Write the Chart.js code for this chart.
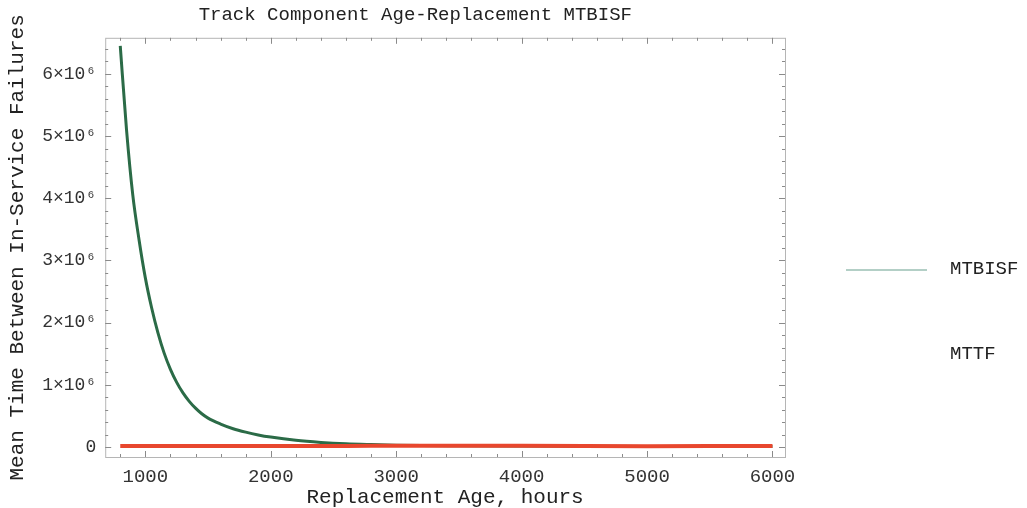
<!DOCTYPE html>
<html>
<head>
<meta charset="utf-8">
<script src="https://cdn.jsdelivr.net/npm/chart.js@4/dist/chart.umd.min.js"></script>
<style>
  html, body { margin: 0; padding: 0; background: #fff; }
  #wrap { width: 1027px; height: 508px; }
</style>
</head>
<body>
<div id="wrap"><canvas id="myChart"></canvas></div>
<script>
const ctx = document.getElementById('myChart');

// replacement age (hours) and the two curves
var ageHours = [800, 850, 900, 950, 1000, 1050, 1100, 1150, 1200, 1250, 1300, 1350, 1400, 1450, 1500,
                1600, 1700, 1800, 1900, 2000, 2200, 2400, 2600, 2800, 3000, 3500, 4000, 4500, 5000, 5500, 6000];
var mtbisf = [6450000, 5100000, 4050000, 3330000, 2720000, 2240000, 1840000, 1510000, 1250000, 1040000,
              870000, 735000, 625000, 535000, 465000, 370000, 295000, 240000, 195000, 160000, 108000,
              75000, 53000, 40000, 30000, 20000, 15000, 12000, 10000, 9000, 8000];
var mttf = [16000, 16000, 16000, 16000, 16000, 16000, 16000, 16000, 16000, 16000, 16000, 16000, 16000, 16000, 16000,
            16000, 16000, 16000, 16000, 16000, 16000, 17000, 18000, 19000, 20000, 21000, 19000, 16000, 13000, 18000, 17000];

var seriesNames = ['MTBISF', 'MTTF'];
var xTicks = [1000, 2000, 3000, 4000, 5000, 6000];
var yTicks = [0, 1000000, 2000000, 3000000, 4000000, 5000000, 6000000];

const FONT = "'Liberation Mono', 'DejaVu Sans Mono', monospace";

function pts(vals) {
    return ageHours.map(function (a, i) { return { x: a, y: vals[i] }; });
}

// frame box with small inward ticks on all four sides
const frameTicks = {
    id: 'frameTicks',
    afterDraw(chart) {
        const c = chart.ctx, a = chart.chartArea;
        const xs = chart.scales.x, ys = chart.scales.y;
        c.save();
        c.strokeStyle = '#b5b5b5';
        c.lineWidth = 1;
        c.strokeRect(a.left + 0.5, a.top + 0.5, a.right - a.left, a.bottom - a.top);
        c.strokeStyle = '#8a8a8a';
        c.beginPath();
        for (let v = 800; v <= xs.max; v += 200) {
            const px = Math.round(xs.getPixelForValue(v)) + 0.5;
            const len = v % 1000 === 0 ? 6 : 3;
            c.moveTo(px, a.bottom); c.lineTo(px, a.bottom - len);
            c.moveTo(px, a.top); c.lineTo(px, a.top + len);
        }
        for (let v = 0; v <= ys.max; v += 200000) {
            const py = Math.round(ys.getPixelForValue(v)) + 0.5;
            const len = v % 1000000 === 0 ? 6 : 3;
            c.moveTo(a.left, py); c.lineTo(a.left + len, py);
            c.moveTo(a.right, py); c.lineTo(a.right - len, py);
        }
        c.stroke();
        c.restore();
    }
};

// legend on the right: MTBISF with a pale swatch, MTTF text only
const sideLegend = {
    id: 'sideLegend',
    afterDraw(chart) {
        const c = chart.ctx;
        const swatch = ['#b3cfc6', null];
        c.save();
        c.font = '19px ' + FONT;
        c.fillStyle = '#222';
        c.textBaseline = 'middle';
        seriesNames.forEach(function (name, i) {
            const y = 269 + i * 85;
            if (swatch[i]) {
                c.strokeStyle = swatch[i];
                c.lineWidth = 2;
                c.beginPath();
                c.moveTo(846, y + 1); c.lineTo(927, y + 1);
                c.stroke();
            }
            c.fillText(name, 950, y);
        });
        c.restore();
    }
};

const chart = new Chart(ctx, {
    type: 'line',
    data: {
        datasets: [{
            label: seriesNames[0],
            data: pts(mtbisf),
            borderColor: '#2b6b47',
            borderWidth: 3,
            pointRadius: 0,
            cubicInterpolationMode: 'monotone',
            order: 1
        }, {
            label: seriesNames[1],
            data: pts(mttf),
            borderColor: '#e8472e',
            borderWidth: 4,
            pointRadius: 0,
            order: 0
        }]
    },
    options: {
        maintainAspectRatio: false,
        responsive: true,
        animation: false,
        layout: { padding: { left: 0, right: 242, top: 4, bottom: 0 } },
        plugins: {
            legend: { display: false },
            tooltip: { enabled: false },
            title: {
                display: true,
                // leading spaces nudge the centred title to the right
                text: '    Track Component Age-Replacement MTBISF',
                color: '#222',
                font: { family: FONT, size: 19, weight: 'normal' },
                padding: { top: 0, bottom: 11 }
            }
        },
        scales: {
            x: {
                type: 'linear',
                min: 680,
                max: 6100,
                grid: { display: false, drawTicks: false },
                border: { display: false },
                afterBuildTicks: function (s) { s.ticks = xTicks.map(function (v) { return { value: v }; }); },
                ticks: {
                    color: '#333',
                    padding: 10,
                    maxRotation: 0,
                    font: { family: FONT, size: 19, lineHeight: 1 },
                    callback: function (v) { return String(v); }
                },
                title: {
                    display: true,
                    text: 'Replacement Age, hours',
                    color: '#222',
                    font: { family: FONT, size: 21, lineHeight: 1 },
                    padding: { top: -9, bottom: 0 }
                }
            },
            y: {
                min: -160000,
                max: 6580000,
                grid: { display: false, drawTicks: false },
                border: { display: false },
                afterBuildTicks: function (s) { s.ticks = yTicks.map(function (v) { return { value: v }; }); },
                ticks: {
                    color: '#333',
                    padding: 9,
                    font: { family: FONT, size: 18 },
                    callback: function (v) { return v === 0 ? '0' : (v / 1000000) + '×10⁶'; }
                },
                title: {
                    display: true,
                    text: 'Mean Time Between In-Service Failures',
                    color: '#222',
                    font: { family: FONT, size: 21 },
                    padding: { top: 5, bottom: 3 }
                }
            }
        }
    },
    plugins: [frameTicks, sideLegend]
});
</script>
</body>
</html>
